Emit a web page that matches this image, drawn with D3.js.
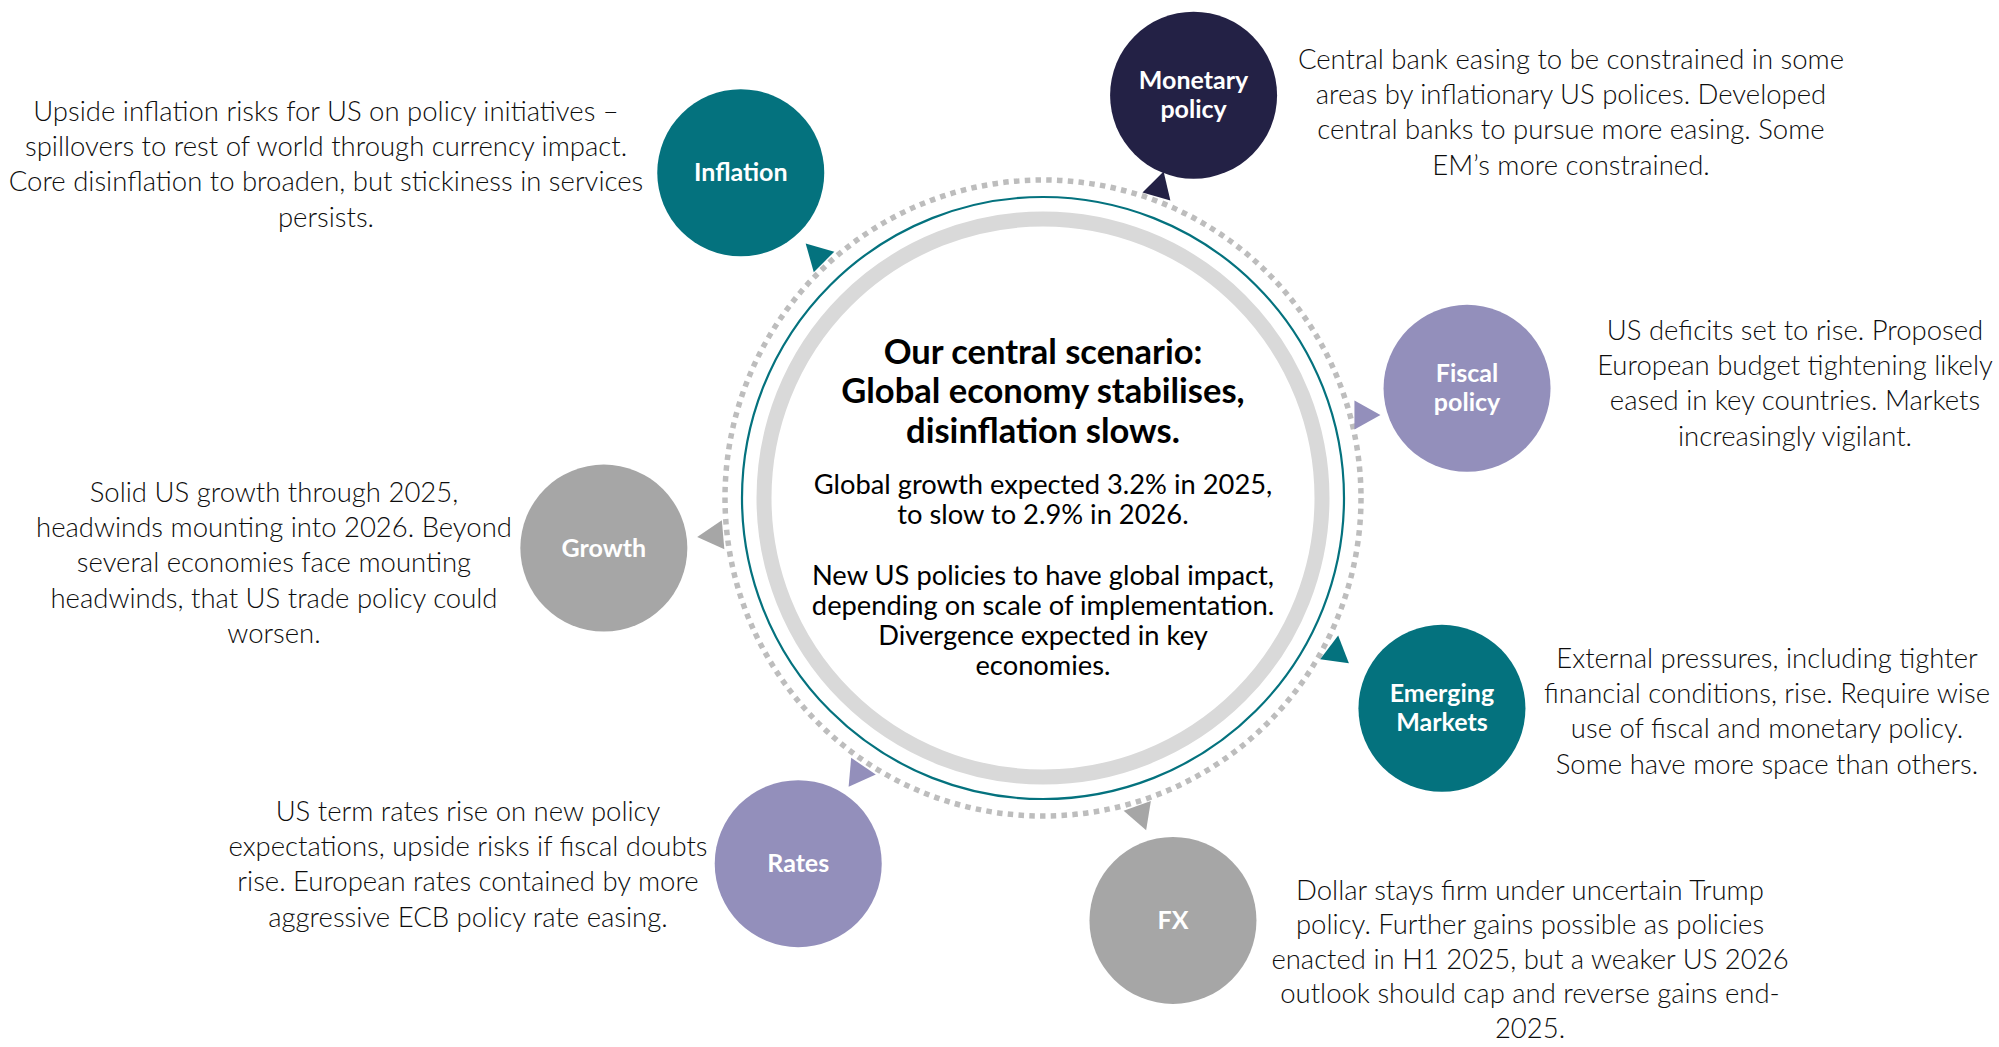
<!DOCTYPE html>
<html>
<head>
<meta charset="utf-8">
<script src="https://cdn.jsdelivr.net/npm/d3@7"></script>
<style>
  html, body { margin: 0; padding: 0; background: #fff; }
  svg { display: block; }
</style>
</head>
<body>
<div class="chart"></div>
<script>
// ---- data ----
const topicLabels = [
  ["Inflation"],
  ["Monetary", "policy"],
  ["Fiscal", "policy"],
  ["Emerging", "Markets"],
  ["FX"],
  ["Rates"],
  ["Growth"]
];
const topicGroups = ["teal", "navy", "lavender", "teal", "gray", "lavender", "gray"];
const topicNotes = [
  ["Upside inflation risks for US on policy initiatives \u2013",
   "spillovers to rest of world through currency impact.",
   "Core disinflation to broaden, but stickiness in services",
   "persists."],
  ["Central bank easing to be constrained in some",
   "areas by inflationary US polices. Developed",
   "central banks to pursue more easing. Some",
   "EM\u2019s more constrained."],
  ["US deficits set to rise. Proposed",
   "European budget tightening likely",
   "eased in key countries. Markets",
   "increasingly vigilant."],
  ["External pressures, including tighter",
   "financial conditions, rise. Require wise",
   "use of fiscal and monetary policy.",
   "Some have more space than others."],
  ["Dollar stays firm under uncertain Trump",
   "policy. Further gains possible as policies",
   "enacted in H1 2025, but a weaker US 2026",
   "outlook should cap and reverse gains end-",
   "2025."],
  ["US term rates rise on new policy",
   "expectations, upside risks if fiscal doubts",
   "rise. European rates contained by more",
   "aggressive ECB policy rate easing."],
  ["Solid US growth through 2025,",
   "headwinds mounting into 2026. Beyond",
   "several economies face mounting",
   "headwinds, that US trade policy could",
   "worsen."]
];
const titleLines = ["Our central scenario:", "Global economy stabilises,", "disinflation slows."];
const bodyLines = ["Global growth expected 3.2% in 2025,", "to slow to 2.9% in 2026.", "",
  "New US policies to have global impact,", "depending on scale of implementation.",
  "Divergence expected in key", "economies."];

// ---- layout ----
let w = 1999;
let h = 1047;
let cx = 1043, cy = 498;
const nodeAngle = [-132.9, -69.5, -14.5, 27.8, 72.9, 123.8, 173.5];   // degrees, screen
const nodeDist = [444, 430, 438, 451, 442, 440, 442];
const arrowDir = [-135, -74, 0, -82, 70, 5, 175];                    // where the tip points
const noteX = [326, 1571, 1795, 1767, 1530, 468, 274];
const noteY = [112, 60, 331, 659, 891, 812, 493];
const noteGap = [35.2, 35.2, 35.2, 35.2, 34.4, 35.2, 35.2];

let colour = d3.scaleOrdinal()
  .domain(["teal", "navy", "lavender", "gray"])
  .range(["#04727e", "#232145", "#938fbb", "#a6a6a6"]);

let rad = d3.scaleLinear().domain([0, 180]).range([0, Math.PI]);

let svg = d3.select(".chart").append("svg")
  .attr("width", w)
  .attr("height", h);

let ring = svg.append("g").attr("transform", "translate(" + cx + "," + cy + ")");

ring.append("circle").attr("r", 279)
  .attr("fill", "none").attr("stroke", "#d9d9d9").attr("stroke-width", 15);
ring.append("circle").attr("r", 301)
  .attr("fill", "none").attr("stroke", "#04727e").attr("stroke-width", 2.2);
ring.append("circle").attr("r", 318)
  .attr("fill", "none").attr("stroke", "#bdbdbd").attr("stroke-width", 5.5)
  .attr("stroke-dasharray", "5.5 5.3");

let nodes = topicLabels.map(function (lab, i) {
  let a = rad(nodeAngle[i]);
  return {
    i: i, label: lab, group: topicGroups[i], notes: topicNotes[i],
    x: cx + nodeDist[i] * Math.cos(a), y: cy + nodeDist[i] * Math.sin(a),
    ax: 331 * Math.cos(a), ay: 331 * Math.sin(a)
  };
});

// arrow heads sitting on the dotted ring
let tri = "M 17,0 L -9,-14.5 L -9,14.5 Z";
ring.selectAll(".arrow")
  .data(nodes)
  .enter().append("path")
  .attr("class", "arrow")
  .attr("d", tri)
  .attr("fill", function (d) { return colour(d.group); })
  .attr("transform", function (d) {
    return "translate(" + d.ax + "," + d.ay + ") rotate(" + arrowDir[d.i] + ")";
  });

let node = svg.selectAll(".node")
  .data(nodes)
  .enter().append("g")
  .attr("class", "node")
  .attr("transform", function (d) { return "translate(" + d.x + "," + d.y + ")"; });

node.append("circle")
  .attr("r", 83.5)
  .attr("fill", function (d) { return colour(d.group); });

node.each(function (d) {
  let g = d3.select(this);
  let n = d.label.length;
  d.label.forEach(function (t, k) {
    g.append("text")
      .attr("text-anchor", "middle")
      .attr("y", (k - (n - 1) / 2) * 29 + 8.5)
      .attr("fill", "#fff")
      .attr("font-family", "Lato, 'Open Sans', sans-serif")
      .attr("font-weight", "bold")
      .attr("font-size", "25px")
      .text(t);
  });
});

// notes next to every topic
let notes = svg.selectAll(".note")
  .data(nodes)
  .enter().append("text")
  .attr("class", "note")
  .attr("text-anchor", "middle")
  .attr("fill", "#0d0d0d")
  .attr("font-family", "Lato, 'Open Sans', sans-serif")
  .attr("font-weight", 300)
  .attr("font-size", "27.5px");

notes.selectAll("tspan")
  .data(function (d) { return d.notes.map(function (t, k) { return { t: t, k: k, i: d.i }; }); })
  .enter().append("tspan")
  .attr("x", function (d) { return noteX[d.i]; })
  .attr("y", function (d) { return noteY[d.i] + d.k * noteGap[d.i] + 9; })
  .text(function (d) { return d.t; });

// centre text
svg.append("g").selectAll("text")
  .data(titleLines)
  .enter().append("text")
  .attr("x", cx)
  .attr("y", function (d, i) { return 352 + i * 39.5 + 11.5; })
  .attr("text-anchor", "middle")
  .attr("fill", "#000")
  .attr("font-family", "Lato, 'Open Sans', sans-serif")
  .attr("font-weight", "bold")
  .attr("font-size", "34.5px")
  .text(function (d) { return d; });

svg.append("g").selectAll("text")
  .data(bodyLines)
  .enter().append("text")
  .attr("x", cx)
  .attr("y", function (d, i) { return 484.5 + i * 30.2 + 9.5; })
  .attr("text-anchor", "middle")
  .attr("fill", "#000")
  .attr("font-family", "Lato, 'Open Sans', sans-serif")
  .attr("font-size", "27.3px")
  .text(function (d) { return d; });
</script>
</body>
</html>
